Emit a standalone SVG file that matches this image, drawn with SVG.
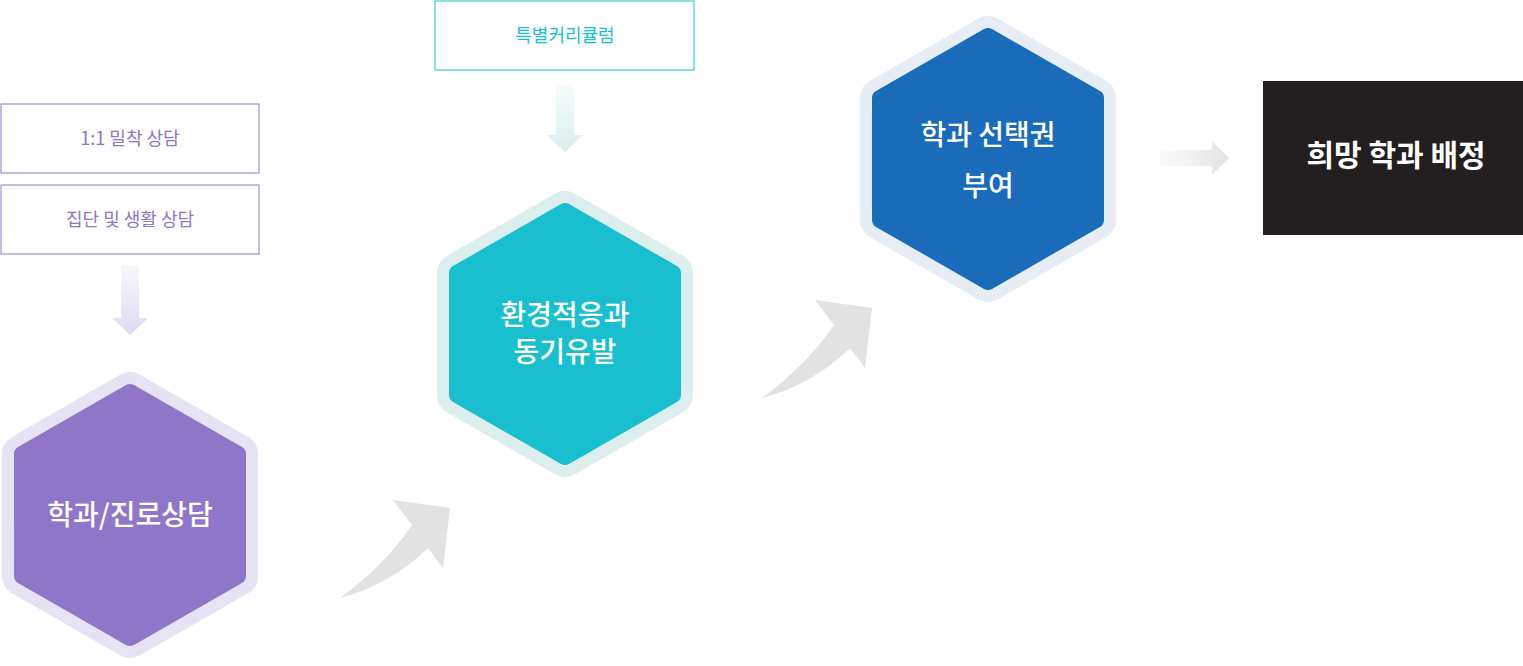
<svg xmlns="http://www.w3.org/2000/svg" width="1523" height="666" viewBox="0 0 1523 666">
<defs>
<style>
text{font-family:"Noto Sans CJK KR","Noto Sans",sans-serif;text-anchor:middle}
.lbl{font-size:18px}
.hx{font-size:28px;fill:#fff;font-weight:500}
.ring{stroke-linejoin:round;stroke-width:40}
.core{stroke-linejoin:round;stroke-width:16}
.curve{fill:#e2e2e2}
</style>
<linearGradient id="gv1" x1="0" y1="0" x2="0" y2="1"><stop offset="0" stop-color="#e6e3f5" stop-opacity="0.3"/><stop offset="1" stop-color="#ddd7f2"/></linearGradient>
<linearGradient id="gv2" x1="0" y1="0" x2="0" y2="1"><stop offset="0" stop-color="#e1f1f1" stop-opacity="0.3"/><stop offset="1" stop-color="#d7eeee"/></linearGradient>
<linearGradient id="gh" x1="0" y1="0" x2="1" y2="0"><stop offset="0" stop-color="#eeeeee" stop-opacity="0.3"/><stop offset="1" stop-color="#e2e2e2"/></linearGradient>
</defs>
<g id="connectors">
<path d="M121,265 H139 V318 H148 L130,335 L112,318 H121 Z" fill="url(#gv1)"/>
<path d="M556,85 H574 V135 H583 L565,152 L547,135 H556 Z" fill="url(#gv2)"/>
<path d="M1160,150 H1212 V141 L1229,158 L1212,175 V166 H1160 Z" fill="url(#gh)"/>
<path class="curve" d="M340,598 Q385,565 412,525 L393,500 L450,508 L443,568 L428,548 Q390,585 340,598 Z"/>
<path class="curve" d="M762,398 Q807,365 834,325 L815,300 L872,308 L865,368 L850,348 Q812,385 762,398 Z"/>
</g>
<g id="box1"><rect x="1" y="104" width="258" height="69" fill="#fff" stroke="#8f76c9"/><text class="lbl" x="130" y="145" fill="#8f76c9">1:1 밀착 상담</text></g>
<g id="box2"><rect x="1" y="185" width="258" height="69" fill="#fff" stroke="#8f76c9"/><text class="lbl" x="130" y="226" fill="#8f76c9">집단 및 생활 상담</text></g>
<g id="box3"><rect x="435" y="1" width="259" height="69" fill="#fff" stroke="#19bfcf"/><text class="lbl" x="565" y="42" fill="#19bfcf">특별커리큘럼</text></g>
<g id="hex1">
<polygon class="ring" points="130,392 238,454 238,576 130,638 22,576 22,454" fill="#e6e3f5" stroke="#e6e3f5"/>
<polygon class="core" points="130,392 238,454 238,576 130,638 22,576 22,454" fill="#8f76c9" stroke="#8f76c9"/>
<text class="hx" x="130" y="525">학과/진로상담</text>
</g>
<g id="hex2">
<polygon class="ring" points="565,211 673,273 673,395 565,457 457,395 457,273" fill="#dcefee" stroke="#dcefee"/>
<polygon class="core" points="565,211 673,273 673,395 565,457 457,395 457,273" fill="#19bfcf" stroke="#19bfcf"/>
<text class="hx" x="565" y="325">환경적응과</text><text class="hx" x="565" y="362">동기유발</text>
</g>
<g id="hex3">
<polygon class="ring" points="988,36 1096,98 1096,220 988,282 880,220 880,98" fill="#e6edf5" stroke="#e6edf5"/>
<polygon class="core" points="988,36 1096,98 1096,220 988,282 880,220 880,98" fill="#1a6bb9" stroke="#1a6bb9"/>
<text class="hx" x="988" y="145" font-weight="bold">학과 선택권</text><text class="hx" x="988" y="196" font-weight="bold">부여</text>
</g>
<g id="box4"><rect x="1263" y="81" width="260" height="154" fill="#231f20"/><text x="1396" y="166" font-size="30" font-weight="bold" fill="#fff">희망 학과 배정</text></g>
</svg>
